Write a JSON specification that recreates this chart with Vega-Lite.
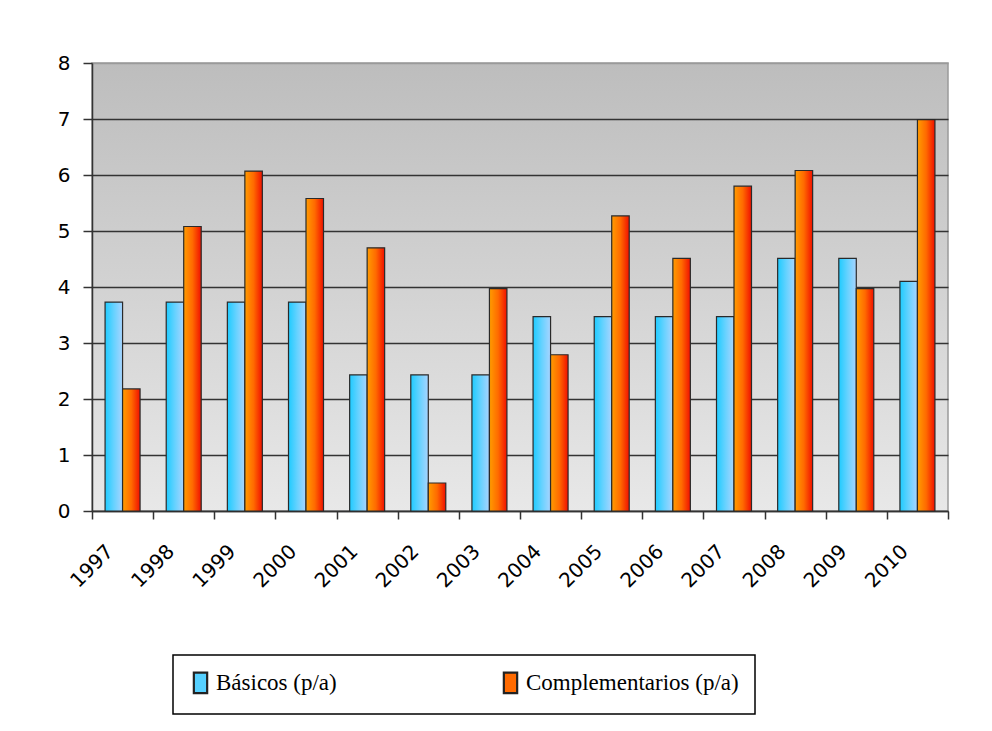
{
  "$schema": "https://vega.github.io/schema/vega-lite/v6.json",
  "width": 856,
  "height": 448,
  "autosize": {"type": "none"},
  "padding": {"left": 92, "top": 63, "right": 44, "bottom": 220},
  "background": "white",
  "config": {
    "view": {
      "stroke": "#9a9a9a",
      "strokeWidth": 1.5,
      "fill": {"gradient": "linear", "x1": 0, "y1": 0, "x2": 0, "y2": 1, "stops": [{"offset": 0, "color": "#bdbdbd"}, {"offset": 1, "color": "#e8e8e8"}]}
    },
    "axis": {
      "labelFont": "DejaVu Sans",
      "labelFontSize": 20,
      "labelColor": "#000",
      "domainColor": "#333",
      "domainWidth": 1.5,
      "tickColor": "#333",
      "tickWidth": 1.5,
      "tickSize": 8,
      "title": null
    }
  },
  "data": {
    "values": [
      {"year": "1997", "series": "Básicos (p/a)", "value": 3.73},
      {"year": "1997", "series": "Complementarios (p/a)", "value": 2.18},
      {"year": "1998", "series": "Básicos (p/a)", "value": 3.73},
      {"year": "1998", "series": "Complementarios (p/a)", "value": 5.08},
      {"year": "1999", "series": "Básicos (p/a)", "value": 3.73},
      {"year": "1999", "series": "Complementarios (p/a)", "value": 6.07},
      {"year": "2000", "series": "Básicos (p/a)", "value": 3.73},
      {"year": "2000", "series": "Complementarios (p/a)", "value": 5.58},
      {"year": "2001", "series": "Básicos (p/a)", "value": 2.43},
      {"year": "2001", "series": "Complementarios (p/a)", "value": 4.70},
      {"year": "2002", "series": "Básicos (p/a)", "value": 2.43},
      {"year": "2002", "series": "Complementarios (p/a)", "value": 0.50},
      {"year": "2003", "series": "Básicos (p/a)", "value": 2.43},
      {"year": "2003", "series": "Complementarios (p/a)", "value": 3.97},
      {"year": "2004", "series": "Básicos (p/a)", "value": 3.47},
      {"year": "2004", "series": "Complementarios (p/a)", "value": 2.79},
      {"year": "2005", "series": "Básicos (p/a)", "value": 3.47},
      {"year": "2005", "series": "Complementarios (p/a)", "value": 5.27},
      {"year": "2006", "series": "Básicos (p/a)", "value": 3.47},
      {"year": "2006", "series": "Complementarios (p/a)", "value": 4.51},
      {"year": "2007", "series": "Básicos (p/a)", "value": 3.47},
      {"year": "2007", "series": "Complementarios (p/a)", "value": 5.80},
      {"year": "2008", "series": "Básicos (p/a)", "value": 4.51},
      {"year": "2008", "series": "Complementarios (p/a)", "value": 6.08},
      {"year": "2009", "series": "Básicos (p/a)", "value": 4.51},
      {"year": "2009", "series": "Complementarios (p/a)", "value": 3.97},
      {"year": "2010", "series": "Básicos (p/a)", "value": 4.10},
      {"year": "2010", "series": "Complementarios (p/a)", "value": 6.99}
    ]
  },
  "encoding": {
    "x": {
      "field": "year",
      "type": "nominal",
      "scale": {"paddingInner": 0, "paddingOuter": 0},
      "axis": {"labelAngle": -45, "tickBand": "extent", "labelPadding": 22, "labelOffset": -20, "ticks": true, "grid": false}
    },
    "xOffset": {
      "field": "series",
      "type": "nominal",
      "scale": {"domain": ["Básicos (p/a)", "Complementarios (p/a)"], "paddingInner": 0, "paddingOuter": 0.747}
    },
    "y": {
      "field": "value",
      "type": "quantitative",
      "scale": {"domain": [0, 8], "nice": false},
      "axis": {
        "values": [0, 1, 2, 3, 4, 5, 6, 7, 8],
        "grid": true,
        "gridColor": {"condition": {"test": "datum.value == 8", "value": "#9a9a9a"}, "value": "#333333"},
        "gridWidth": 1.5,
        "labelPadding": 13,
        "tickSize": 9
      }
    }
  },
  "layer": [
    {
      "transform": [{"filter": "datum.series == 'Básicos (p/a)'"}],
      "mark": {
        "type": "bar", "stroke": "#2a2a2a", "strokeWidth": 1.2,
        "color": {"gradient": "linear", "x1": 0, "y1": 0, "x2": 1, "y2": 0, "stops": [{"offset": 0, "color": "#1ecbff"}, {"offset": 0.5, "color": "#66d2ff"}, {"offset": 1, "color": "#a8d4ff"}]}
      }
    },
    {
      "transform": [{"filter": "datum.series == 'Complementarios (p/a)'"}],
      "mark": {
        "type": "bar", "stroke": "#2a2a2a", "strokeWidth": 1.2,
        "color": {"gradient": "linear", "x1": 0, "y1": 0, "x2": 1, "y2": 0, "stops": [{"offset": 0, "color": "#ff9c00"}, {"offset": 0.5, "color": "#ff6a00"}, {"offset": 1, "color": "#f01000"}]}
      }
    },
    {
      "transform": [{"filter": "false"}],
      "mark": {"type": "bar"},
      "encoding": {
        "color": {
          "field": "series",
          "type": "nominal",
          "scale": {
            "domain": ["Básicos (p/a)", "Complementarios (p/a)"],
            "range": ["#55d0ff", "#ff6a00"]
          },
          "legend": {
            "title": null,
            "orient": "none",
            "legendX": 81,
            "legendY": 592,
            "direction": "horizontal",
            "columns": 2,
            "columnPadding": 162,
            "strokeColor": "#000000",
            "padding": 16,
            "symbolType": "M-0.65,-1H0.65V1H-0.65Z",
            "symbolSize": 420,
            "symbolStrokeColor": "#222222",
            "symbolStrokeWidth": 2.2,
            "labelFont": "Liberation Serif",
            "labelFontSize": 23,
            "labelLimit": 500,
            "labelColor": "#000000",
            "labelOffset": 4,
            "encode": {"legend": {"update": {"strokeWidth": {"value": 1.5}}}}
          }
        }
      }
    }
  ]
}
